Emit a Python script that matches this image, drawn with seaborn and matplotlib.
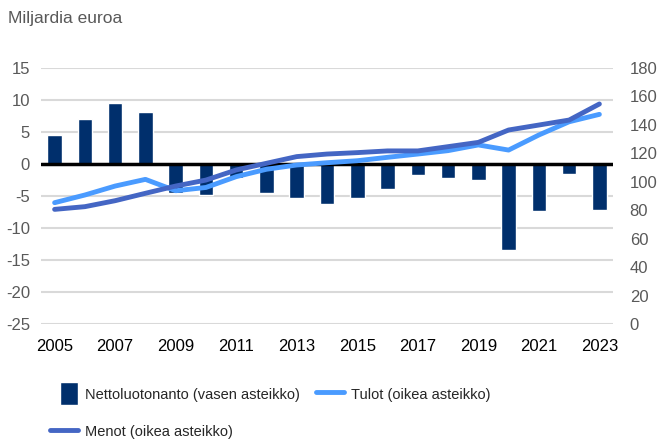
import numpy as np
import matplotlib
matplotlib.use("Agg")
import matplotlib.pyplot as plt
from matplotlib import font_manager
from matplotlib.patches import Rectangle
from matplotlib.legend_handler import HandlerPatch
import seaborn as sns

years = list(range(2005, 2024))
netto = [4.5, 7.0, 9.6, 8.2, -4.6, -4.8, -2.2, -4.5, -5.3, -6.3,
         -5.3, -3.9, -1.7, -2.2, -2.5, -13.5, -7.3, -1.5, -7.2]
tulot = [85.3, 90.7, 97.0, 101.7, 93.7, 96.0, 103.6, 108.8, 111.8, 113.4,
         114.8, 117.2, 119.5, 121.9, 125.9, 122.3, 132.9, 142.2, 147.4]
menot = [80.6, 82.5, 86.7, 91.9, 97.0, 101.2, 108.3, 113.0, 117.7, 119.5,
         120.5, 121.7, 121.7, 124.7, 127.7, 136.4, 139.9, 143.4, 154.7]
left_ticks = [-25, -20, -15, -10, -5, 0, 5, 10, 15]
right_ticks = [0, 20, 40, 60, 80, 100, 120, 140, 160, 180]
xtick_years = [2005, 2007, 2009, 2011, 2013, 2015, 2017, 2019, 2021, 2023]

c_bar = "#002f6c"
c_tulot = "#4a9bff"
c_menot = "#4466c4"
grey_txt = "#595959"

sns.set_style("white")
# condensed font if there is one, otherwise an Arial-like one
installed = {f.name for f in font_manager.fontManager.ttflist}
if "Liberation Sans Narrow" in installed:
    fam, fs, fs_leg, fs_title = "Liberation Sans Narrow", 13, 12, 13
else:
    fam, fs, fs_leg, fs_title = "Liberation Sans", 12, 10.5, 12.5
plt.rcParams['font.family'] = [fam, 'DejaVu Sans']
plt.rcParams['font.size'] = fs

fig = plt.figure(figsize=(6.6, 4.46), dpi=100)
ax = fig.add_axes([41/660, 1-324/446, (613-41)/660, (324-68)/446])

sns.barplot(x=years, y=netto, native_scale=True, width=0.48, color=c_bar,
            saturation=1, ax=ax, label="Nettoluotonanto (vasen asteikko)", zorder=2)
ax.set_xlim(2004.55, 2023.45)
ax.set_ylim(-25, 15)
ax.set_yticks(left_ticks)
ax.set_yticklabels([str(t) for t in left_ticks], color=grey_txt)
ax.set_xticks(xtick_years)
ax.set_xticklabels([str(y) for y in xtick_years], color="black")
ax.tick_params(axis="y", length=0, pad=8)
ax.tick_params(axis="x", length=0, pad=11)
for t in left_ticks:
    if t != 0:
        ax.axhline(t, color="#d9d9d9", lw=1.5, zorder=0)
ax.axhline(0, color="black", lw=2.5, zorder=3)
for s in ax.spines.values():
    s.set_visible(False)
ax.set_xlabel("")
ax.set_ylabel("")

ax2 = ax.twinx()
sns.lineplot(x=years, y=tulot, color=c_tulot, lw=3.5, ax=ax2,
             label="Tulot (oikea asteikko)", solid_capstyle="round")
sns.lineplot(x=years, y=menot, color=c_menot, lw=3.5, ax=ax2,
             label="Menot (oikea asteikko)", solid_capstyle="round")
ax2.set_ylim(0, 180)
ax2.set_yticks(right_ticks)
ax2.set_yticklabels([str(t) for t in right_ticks], color=grey_txt)
ax2.tick_params(axis="y", length=0, pad=12)
for s in ax2.spines.values():
    s.set_visible(False)
ax2.set_ylabel("")
ax2.get_legend().remove()


def narrow_box(legend, orig_handle, xdescent, ydescent, width, height, fontsize):
    w, h = 13, 16
    return Rectangle((-xdescent + width - w, -ydescent + (height - h) / 2), w, h)


h1, l1 = ax.get_legend_handles_labels()
h2, l2 = ax2.get_legend_handles_labels()
bar_handle = h1[0].patches[0] if hasattr(h1[0], "patches") else h1[0]
handles = [bar_handle, h2[1], h2[0]]
labels = [l1[0], l2[1], l2[0]]
if ax.get_legend() is not None:
    ax.get_legend().remove()
fig.legend(handles, labels, ncol=2, frameon=False, loc="upper left",
           bbox_to_anchor=(37/660, 1-373/446), handlelength=1.9,
           handleheight=1.2, handletextpad=0.5, columnspacing=1.1,
           labelspacing=1.5, fontsize=fs_leg,
           handler_map={bar_handle: HandlerPatch(patch_func=narrow_box)})

fig.text(8/660, 1-18/446, "Miljardia euroa", color=grey_txt, fontsize=fs_title,
         va="center", ha="left")

fig.savefig("out.png", dpi=100)
